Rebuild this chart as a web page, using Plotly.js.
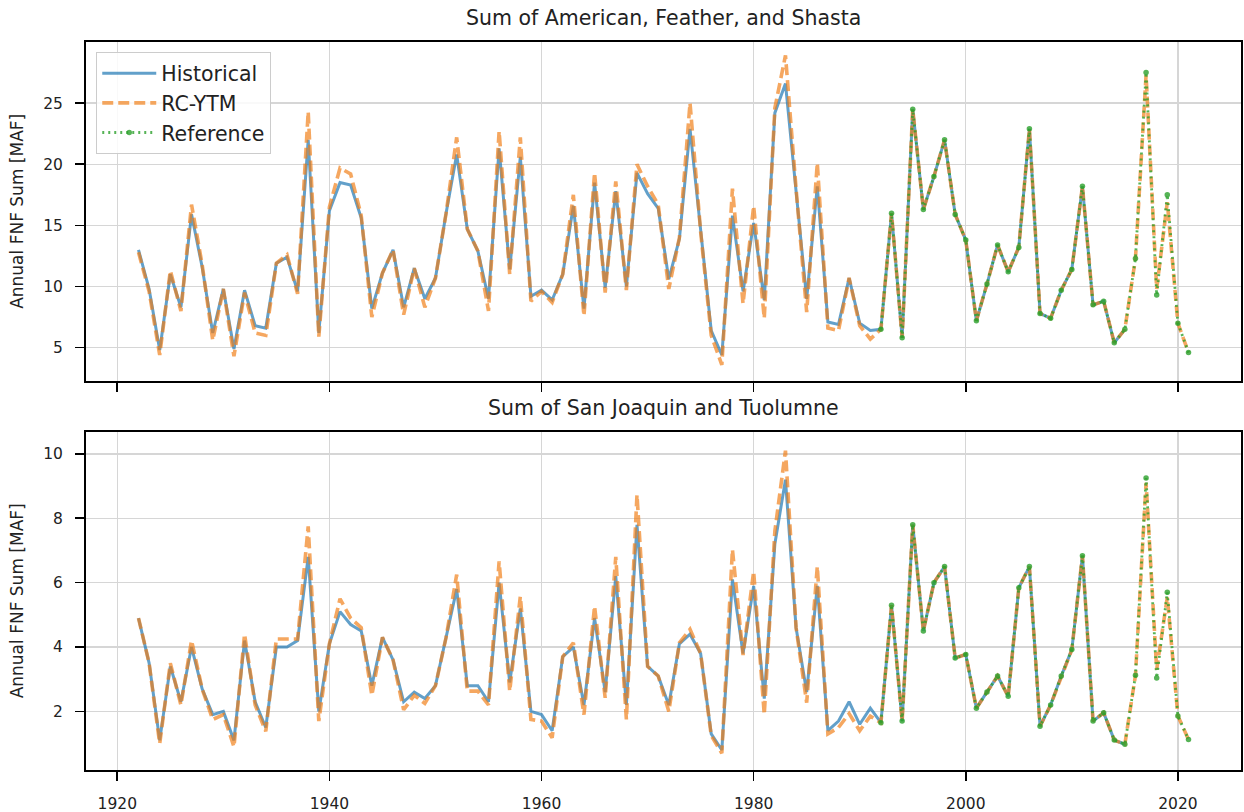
<!DOCTYPE html>
<html>
<head>
<meta charset="utf-8">
<script src="https://cdn.plot.ly/plotly-3.0.1.min.js"></script>
<style>html,body{margin:0;padding:0;background:#fff;}#chart{width:1244px;height:812px;}</style>
</head>
<body>
<div id="chart"></div>
<script>
// ---- Data ----
const yearsAll = [];
for (let y = 1922; y <= 2021; y++) yearsAll.push(y);
const yearsHist = yearsAll.filter(y => y <= 2015);
const yearsRef = yearsAll.filter(y => y >= 1992);

// Top panel: Sum of American, Feather, and Shasta
const topHistorical = [13.0,9.8,4.8,11.0,8.3,15.9,11.6,6.2,9.8,4.9,9.7,6.8,6.6,11.9,12.4,9.6,22.0,6.2,16.2,18.5,
  18.3,15.6,8.2,11.1,13.0,8.3,11.5,9.0,10.7,16.0,20.8,14.7,12.9,9.0,21.3,11.4,20.6,9.2,9.7,8.9,
  11.0,16.6,8.2,18.5,9.9,17.8,10.0,19.3,17.6,16.4,10.6,13.9,22.9,14.5,6.4,4.4,15.8,9.6,15.2,8.9,
  24.2,26.6,17.5,9.0,18.2,7.1,6.9,10.7,7.0,6.4,6.5,16.0,5.8,24.5,16.3,19.0,22.0,15.9,13.8,7.2,
  10.2,13.4,11.2,13.2,22.9,7.8,7.4,9.7,11.4,18.2,8.5,8.8,5.4,6.5];
const topRCYTM = [12.8,9.6,4.4,11.3,8.0,16.7,11.8,5.6,9.8,4.3,9.5,6.2,6.0,11.9,12.6,9.4,24.3,5.9,16.5,19.7,
  19.2,15.8,7.5,11.1,13.0,7.7,11.5,8.3,10.7,16.0,22.2,14.7,12.9,8.0,22.7,11.0,22.2,8.8,9.6,8.7,
  11.0,17.5,7.6,19.3,9.5,18.6,9.7,20.0,18.2,16.7,9.8,14.0,25.0,14.5,6.0,3.6,18.0,8.6,16.6,7.4,
  24.6,28.9,18.0,7.9,20.1,6.6,6.4,10.7,6.8,5.7,6.5,16.0,5.8,24.5,16.3,19.0,22.0,15.9,13.8,7.2,
  10.2,13.4,11.2,13.2,22.9,7.8,7.4,9.7,11.4,18.2,8.5,8.8,5.4,6.5,12.3,27.3,9.8,16.9,7.0,4.6];
const topReference = [6.5,16.0,5.8,24.5,16.3,19.0,22.0,15.9,13.8,7.2,10.2,13.4,11.2,13.2,22.9,7.8,7.4,9.7,11.4,18.2,
  8.5,8.8,5.4,6.5,12.3,27.5,9.3,17.5,7.0,4.6];

// Bottom panel: Sum of San Joaquin and Tuolumne
const botHistorical = [4.9,3.5,1.1,3.4,2.3,4.0,2.7,1.9,2.0,1.1,4.2,2.3,1.5,4.0,4.0,4.2,6.8,2.0,4.1,5.1,
  4.7,4.5,2.8,4.3,3.6,2.3,2.6,2.4,2.8,4.3,5.8,2.8,2.8,2.3,6.0,2.9,5.2,2.0,1.9,1.4,
  3.7,4.0,2.2,4.9,2.6,6.2,2.2,7.8,3.4,3.1,2.2,4.1,4.4,3.8,1.3,0.8,6.1,3.8,5.9,2.4,
  7.2,9.2,4.6,2.6,5.9,1.4,1.7,2.3,1.6,2.1,1.65,5.3,1.7,7.8,4.5,6.0,6.5,3.66,3.77,2.1,
  2.6,3.1,2.47,5.84,6.5,1.54,2.2,3.1,3.92,6.84,1.7,1.96,1.11,0.98];
const botRCYTM = [4.9,3.5,1.0,3.5,2.2,4.2,2.7,1.75,1.9,0.9,4.4,2.2,1.38,4.25,4.25,4.25,7.75,1.7,4.1,5.5,
  4.9,4.6,2.5,4.3,3.6,2.05,2.5,2.25,2.8,4.3,6.25,2.63,2.63,2.2,6.66,2.63,5.57,1.75,1.7,1.18,
  3.7,4.13,1.9,5.27,2.42,6.8,1.75,8.73,3.4,3.1,2.0,4.13,4.55,3.8,1.25,0.7,7.03,3.75,6.35,1.9,
  7.6,10.1,4.6,2.27,6.5,1.3,1.5,1.93,1.4,1.85,1.65,5.3,1.7,7.8,4.5,6.0,6.5,3.66,3.77,2.1,
  2.6,3.1,2.47,5.84,6.5,1.54,2.2,3.1,3.92,6.84,1.7,1.96,1.11,0.98,3.12,9.1,3.3,5.55,1.86,1.13];
const botReference = [1.65,5.3,1.7,7.8,4.5,6.0,6.5,3.66,3.77,2.1,2.6,3.1,2.47,5.84,6.5,1.54,2.2,3.1,3.92,6.84,
  1.7,1.96,1.11,0.98,3.12,9.25,3.04,5.7,1.86,1.13];

const seriesNames = ['Historical', 'RC-YTM', 'Reference'];
const panelTitles = ['Sum of American, Feather, and Shasta', 'Sum of San Joaquin and Tuolumne'];
const yTitle = 'Annual FNF Sum [MAF]';
const xTicks = [1920, 1940, 1960, 1980, 2000, 2020];
const topYTicks = [5, 10, 15, 20, 25];
const botYTicks = [2, 4, 6, 8, 10];

// ---- Styles ----
const FONT = 'DejaVu Sans, sans-serif';
const cBlue = 'rgba(31,119,180,0.7)';
const cOrange = 'rgba(240,125,20,0.68)';
const cGreen = 'rgba(44,160,44,0.8)';

function mk(x, y, which, xa, ya, showlegend) {
  const base = {x: x, y: y, xaxis: xa, yaxis: ya, name: seriesNames[which], showlegend: showlegend, legendgroup: seriesNames[which], hoverinfo: 'x+y'};
  if (which === 0) return Object.assign(base, {mode: 'lines', line: {color: cBlue, width: 3}});
  if (which === 1) return Object.assign(base, {mode: 'lines', line: {color: cOrange, width: 3.6, dash: '11px,5px'}});
  return Object.assign(base, {mode: 'lines+markers', line: {color: cGreen, width: 2.8, dash: '2px,4px'}, marker: {color: cGreen, size: 5.5}});
}

const traces = [
  mk(yearsHist, topHistorical, 0, 'x2', 'y2', true),
  mk(yearsAll, topRCYTM, 1, 'x2', 'y2', true),
  mk(yearsRef, topReference, 2, 'x2', 'y2', true),
  mk(yearsHist, botHistorical, 0, 'x', 'y', false),
  mk(yearsAll, botRCYTM, 1, 'x', 'y', false),
  mk(yearsRef, botReference, 2, 'x', 'y', false)
];

const axCommon = {
  showline: true, mirror: true, linecolor: '#000', linewidth: 2,
  ticks: 'outside', ticklen: 9, tickwidth: 1.6, tickcolor: '#000',
  showgrid: true, gridcolor: '#d6d6d6', gridwidth: 1.4, zeroline: false,
  tickfont: {family: FONT, size: 15.5, color: '#222'}
};

const layout = {
  width: 1244, height: 812,
  margin: {l: 86, r: 3, t: 42, b: 42},
  paper_bgcolor: '#fff', plot_bgcolor: '#fff',
  font: {family: FONT, color: '#222'},
  showlegend: true,
  legend: {x: 0.0087, y: 0.986, xanchor: 'left', yanchor: 'top',
    bgcolor: 'rgba(255,255,255,0.85)', bordercolor: '#cccccc', borderwidth: 1.2,
    font: {family: FONT, size: 20.5, color: '#222'}, tracegroupgap: 0, itemwidth: 54},
  xaxis: Object.assign({}, axCommon, {anchor: 'y', domain: [0, 1], range: [1917.05, 2025.95], tickmode: 'array', tickvals: xTicks, ticktext: xTicks.map(String), ticklabelstandoff: 9}),
  yaxis: Object.assign({}, axCommon, {anchor: 'x', domain: [0, 0.4647], range: [0.18, 10.69], tickmode: 'array', tickvals: botYTicks, ticktext: botYTicks.map(String), ticklabelstandoff: 9,
    title: {text: yTitle, font: {family: FONT, size: 17, color: '#222'}, standoff: 15}}),
  xaxis2: Object.assign({}, axCommon, {anchor: 'y2', domain: [0, 1], matches: 'x', range: [1917.05, 2025.95], tickmode: 'array', tickvals: xTicks, showticklabels: false}),
  yaxis2: Object.assign({}, axCommon, {anchor: 'x2', domain: [0.5348, 1], range: [2.3, 30.0], tickmode: 'array', tickvals: topYTicks, ticktext: topYTicks.map(String), ticklabelstandoff: 9,
    title: {text: yTitle, font: {family: FONT, size: 17, color: '#222'}, standoff: 15}}),
  annotations: [
    {text: panelTitles[0], xref: 'paper', yref: 'paper', x: 0.5, y: 1, xanchor: 'center', yanchor: 'bottom', yshift: 10, showarrow: false, font: {family: FONT, size: 20.5, color: '#222'}},
    {text: panelTitles[1], xref: 'paper', yref: 'paper', x: 0.5, y: 0.4647, xanchor: 'center', yanchor: 'bottom', yshift: 10, showarrow: false, font: {family: FONT, size: 20.5, color: '#222'}}
  ]
};

Plotly.newPlot('chart', traces, layout, {displayModeBar: false, staticPlot: true});
</script>
</body>
</html>
